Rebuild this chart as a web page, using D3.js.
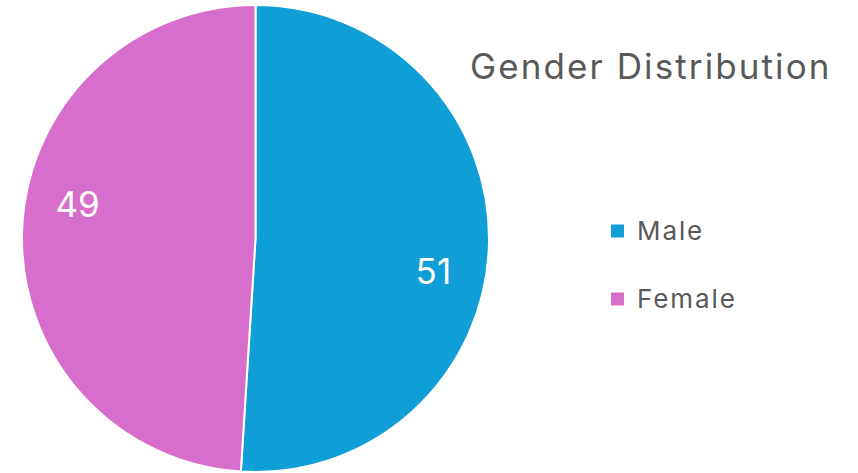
<!DOCTYPE html>
<html>
<head>
<meta charset="utf-8">
<script src="https://cdn.jsdelivr.net/npm/d3@7"></script>
<style>
  body { margin: 0; background: #fff; }
  svg { display: block; }
</style>
</head>
<body>
<svg id="chart" width="858" height="473"></svg>
<script>
// chart data
const title = "Gender Distribution"
const categories = ["Male", "Female"]
const values = [51, 49]
const colors = ["#0F9ED5", "#D86ECC"]

const width = 858
const height = 473
const cx = 255.5
const cy = 238.5
const radius = 233.5
const fontFamily = "Inter, 'Open Sans', sans-serif"
const textColor = "#595959"

const svg = d3.select("#chart")

const color = d3.scaleOrdinal()
    .domain(categories)
    .range(colors)

const pie = d3.pie()
    .sort(null)
    .value(d => d.value)

const data = categories.map((c, i) => ({name: c, value: values[i]}))
const arcs = pie(data)

const arc = d3.arc()
    .innerRadius(0)
    .outerRadius(radius)

const g = svg.append("g")
    .attr("transform", `translate(${cx},${cy})`)

g.selectAll("path.slice")
    .data(arcs)
    .join("path")
    .attr("class", "slice")
    .attr("d", arc)
    .attr("fill", d => color(d.data.name))
    .attr("stroke", "#fff")
    .attr("stroke-width", 2)

// data labels -- excel nudges them a bit clockwise of the slice middle
const labelR = radius * 0.775
const labelTurn = 8.8 * Math.PI / 180
g.selectAll("text.val")
    .data(arcs)
    .join("text")
    .attr("class", "val")
    .attr("x", d => Math.sin((d.startAngle + d.endAngle) / 2 + labelTurn) * labelR)
    .attr("y", d => -Math.cos((d.startAngle + d.endAngle) / 2 + labelTurn) * labelR)
    .attr("dy", "0.35em")
    .attr("text-anchor", "middle")
    .attr("fill", "#fff")
    .attr("font-family", fontFamily)
    .attr("font-size", "35px")
    .text(d => d.data.value)

// title
svg.append("text")
    .attr("x", 470)
    .attr("y", 79)
    .attr("fill", textColor)
    .attr("font-family", fontFamily)
    .attr("font-size", "35px")
    .attr("letter-spacing", "2.1px")
    .text(title)

// legend
const legendY = d3.scalePoint()
    .domain(categories)
    .range([231, 299])

const legend = svg.append("g")
    .selectAll("g")
    .data(categories)
    .join("g")
    .attr("transform", d => `translate(611,${legendY(d)})`)

legend.append("rect")
    .attr("x", 0)
    .attr("y", -6.5)
    .attr("width", 13)
    .attr("height", 13)
    .attr("fill", d => color(d))

legend.append("text")
    .attr("x", 26)
    .attr("y", 0)
    .attr("dy", "0.35em")
    .attr("fill", textColor)
    .attr("font-family", fontFamily)
    .attr("font-size", "26px")
    .attr("letter-spacing", "1.9px")
    .text(d => d)
</script>
</body>
</html>
